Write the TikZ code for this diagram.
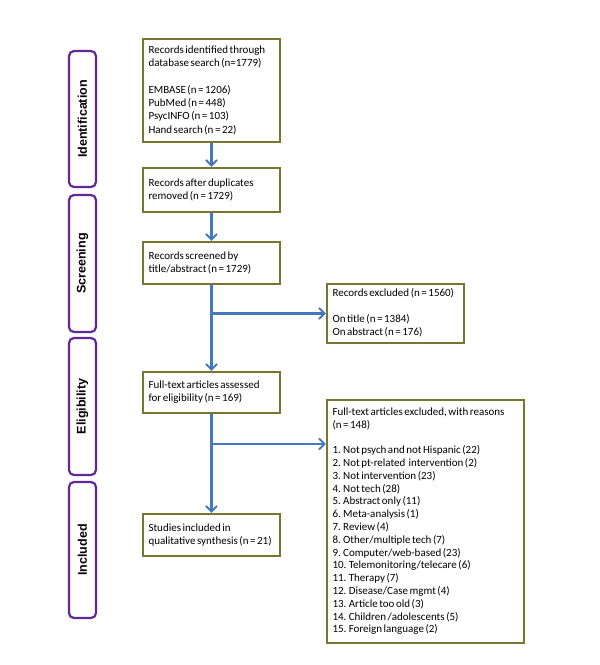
\documentclass[tikz,border=0pt]{standalone}
\usepackage{fontspec}
\setmainfont{Carlito}
\newfontfamily\phasefont{Liberation Sans}
\usetikzlibrary{arrows.meta}
\definecolor{boxol}{RGB}{120,118,48}
\definecolor{phasepur}{RGB}{96,40,150}
\definecolor{arrblue}{RGB}{70,120,190}
\newcommand\boxlines[2][126pt]{\spaceskip=0.62\fontdimen2\font\relax\makebox[#1][l]{\begin{tabular}{@{}l@{}}#2\end{tabular}}}
\tikzset{
  flowbox/.style={draw=boxol, line width=2.2pt, fill=white, inner xsep=5.5pt, inner ysep=0pt,
    font=\fontsize{11}{13.3}\selectfont, anchor=center},
  phasebox/.style={draw=phasepur, line width=2.2pt, rounded corners=5pt,
    minimum width=27pt, inner sep=0pt},
  phaselabel/.style={rotate=90, font=\phasefont\bfseries\fontsize{12.5}{14}\selectfont},
  flowarrow/.style={draw=arrblue, line width=2.2pt,
    -{Straight Barb[length=5.5pt,width=11pt,line width=2pt]}},
}
\begin{document}
\begin{tikzpicture}[x=1pt,y=-1pt]
\useasboundingbox (0,0) rectangle (600,665);
% phase boxes
\node[phasebox, minimum height=136pt] (pid) at (82.5,119) {};
\node[phaselabel] (lid) at (pid.center) {Identification};
\node[phasebox, minimum height=137pt] (pscr) at (82.5,263.5) {};
\node[phaselabel] (lscr) at (pscr.center) {Screening};
\node[phasebox, minimum height=137pt] (pel) at (82.5,406.5) {};
\node[phaselabel] (lel) at (pel.center) {Eligibility};
\node[phasebox, minimum height=136pt] (pinc) at (82.5,550) {};
\node[phaselabel] (linc) at (pinc.center) {Included};
% main boxes
\node[flowbox, minimum height=103pt] (ident) at (211.5,90.5) {\boxlines{Records identified through\\database search (n=1779)\\[13.3pt]EMBASE (n = 1206)\\PubMed (n = 448)\\PsycINFO (n = 103)\\Hand search (n = 22)}};
\node[flowbox, minimum height=44pt] (dup) at (211.5,190) {\boxlines{Records after duplicates\\removed (n = 1729)}};
\node[flowbox, minimum height=42pt] (scr) at (211.5,263) {\boxlines{Records screened by\\title/abstract (n = 1729)}};
\node[flowbox, minimum height=41pt] (full) at (211.5,392.5) {\boxlines{Full-text articles assessed\\for eligibility (n = 169)}};
\node[flowbox, minimum height=42pt] (inc) at (211.5,535) {\boxlines{Studies included in\\qualitative synthesis (n = 21)}};
\node[flowbox, minimum height=59pt] (exa) at (395.5,313.5) {\boxlines{Records excluded (n = 1560)\\[12.5pt]On title (n = 1384)\\On abstract (n = 176)}};
\node[flowbox, minimum height=243pt, font=\fontsize{11}{12.8}\selectfont] (exb) at (425.5,521.5) {\boxlines[186pt]{Full-text articles excluded, with reasons\\(n = 148)\\[12.8pt]1. Not psych and not Hispanic (22)\\2. Not pt-related\ \ intervention (2)\\3. Not intervention (23)\\4. Not tech (28)\\5. Abstract only (11)\\6. Meta-analysis (1)\\7. Review (4)\\8. Other/multiple tech (7)\\9. Computer/web-based (23)\\10. Telemonitoring/telecare (6)\\11. Therapy (7)\\12. Disease/Case mgmt (4)\\13. Article too old (3)\\14. Children /adolescents (5)\\15. Foreign language (2)}};
% connectors
\coordinate (b1) at (212,313.5);
\coordinate (b2) at (212,444);
\draw[flowarrow] (ident.south) -- (dup.north);
\draw[flowarrow] (dup.south) -- (scr.north);
\draw[flowarrow] (scr.south) -- (full.north);
\draw[flowarrow] (b1) -- (exa.west);
\draw[flowarrow] (full.south) -- (inc.north);
\draw[flowarrow] (b2) -- (b2 -| exb.west);
\end{tikzpicture}
\end{document}
